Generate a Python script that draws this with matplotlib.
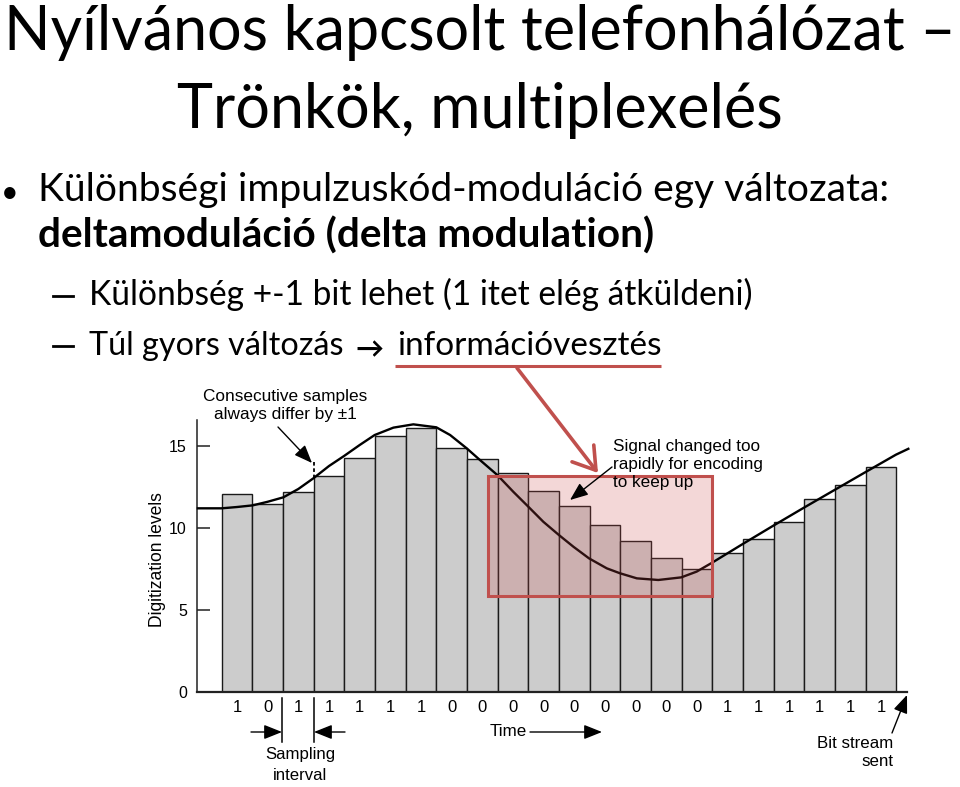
import matplotlib
matplotlib.use("Agg")
import matplotlib.pyplot as plt
from matplotlib.patches import Rectangle, FancyArrowPatch

# ---------------- data ----------------
bits = [1, 0, 1, 1, 1, 1, 1, 0, 0, 0, 0, 0, 0, 0, 0, 0, 1, 1, 1, 1, 1, 1]
levels = [12.07, 11.44, 12.17, 13.15, 14.25, 15.59, 16.08, 14.90, 14.23, 13.33, 12.28,
          11.36, 10.16, 9.18, 8.19, 7.52, 8.46, 9.35, 10.38, 11.77, 12.64, 13.70]
signal_t = [-0.815, 0.0, 0.5, 1.01, 1.5, 2.01, 2.5, 2.99, 3.5, 3.99, 4.5, 4.99, 5.6, 6.25,
            7.0, 7.45, 7.99, 8.42, 8.99, 9.51, 10.0, 10.49, 11.0, 11.47, 11.98, 12.56,
            12.99, 13.54, 14.24, 14.99, 15.49, 16.0, 16.99, 17.99, 18.99, 19.99, 20.99,
            21.99, 22.43]
signal_v = [11.20, 11.20, 11.28, 11.38, 11.60, 11.87, 12.38, 13.03, 13.78, 14.39, 15.06,
            15.67, 16.12, 16.32, 16.14, 15.67, 14.86, 14.15, 13.23, 12.21, 11.30, 10.38,
            9.57, 8.86, 8.15, 7.54, 7.24, 6.93, 6.83, 6.99, 7.34, 7.89, 9.02, 10.14,
            11.24, 12.32, 13.40, 14.47, 14.86]
yticks = [0, 5, 10, 15]
highlight = dict(t0=8.7, t1=16.0, v0=5.85, v1=13.17)

title_lines = ["Nyílvános kapcsolt telefonhálózat –", "Trönkök, multiplexelés"]
bullet_text = "Különbségi impulzuskód-moduláció egy változata:"
bold_text = "deltamoduláció (delta modulation)"
sub1_text = "Különbség +-1 bit lehet (1 itet elég átküldeni)"
sub2_a = "Túl gyors változás "
sub2_arrow = "→"
sub2_b = "információvesztés"

W, H = 960, 787
fig = plt.figure(figsize=(W / 100, H / 100), dpi=100)
fig.patch.set_facecolor("white")
renderer = fig.canvas.get_renderer()

RED = "#c0504d"
SLIDE_FONT = ["Lato", "DejaVu Sans"]
FIG_FONT = ["Liberation Sans", "DejaVu Sans"]

# ---------------- chart axes ----------------
px0, px_unit = 221.7, 30.66      # pixel of t=0, pixels per time unit
py0, py_unit = 692.0, 16.4       # pixel of level 0, pixels per level
ax_l, ax_r, ax_t = 196.7, 912.0, 420.0
ax = fig.add_axes([ax_l / W, (H - py0) / H, (ax_r - ax_l) / W, (py0 - ax_t) / H])
ax.set_xlim((ax_l - px0) / px_unit, (ax_r - px0) / px_unit)
ax.set_ylim(0, (py0 - ax_t) / py_unit)
ax.set_facecolor("none")

n = len(levels)
ax.bar([i + 0.5 for i in range(n)], levels, width=1.0, color="#cccccc",
       edgecolor="#1a1a1a", linewidth=1.0, zorder=2)
ax.plot(signal_t, signal_v, color="black", linewidth=1.7, zorder=3,
        solid_capstyle="butt", clip_on=False)

ax.add_patch(Rectangle((highlight["t0"], highlight["v0"]),
                       highlight["t1"] - highlight["t0"], highlight["v1"] - highlight["v0"],
                       facecolor=(0.80, 0.30, 0.30, 0.22), edgecolor=RED,
                       linewidth=2.2, zorder=5, clip_on=False))

for s in ["top", "right"]:
    ax.spines[s].set_visible(False)
ax.spines["left"].set_linewidth(1.1)
ax.spines["bottom"].set_linewidth(1.6)
ax.spines["left"].set_color("#222222")
ax.spines["bottom"].set_color("#222222")
ax.spines["bottom"].set_bounds((ax_l - px0) / px_unit, (907 - px0) / px_unit)
ax.set_xticks([])
ax.set_yticks(yticks)
ax.set_yticklabels([str(v) for v in yticks], fontfamily=FIG_FONT, fontsize=11.5)
ax.tick_params(axis="y", direction="in", length=9.5, width=1.1, pad=7, colors="#222222",
               labelcolor="black")

# bit labels under each bar
for i, b in enumerate(bits):
    ax.text(i + 0.5, -(708 - py0) / py_unit, str(b), ha="center", va="center",
            fontsize=12, fontfamily=FIG_FONT, clip_on=False)

# ---------------- overlay (pixel coordinates) ----------------
ov = fig.add_axes([0, 0, 1, 1], zorder=10)
ov.set_xlim(0, W)
ov.set_ylim(H, 0)
ov.axis("off")
ov.patch.set_alpha(0)


def fit(t, target, dim="w"):
    bb = t.get_window_extent(renderer)
    cur = bb.width if dim == "w" else bb.height
    t.set_fontsize(t.get_fontsize() * target / cur)
    return t


def ftext(x, y, s, target=None, ha="left", va="center", size=12, fam=FIG_FONT, **kw):
    t = ov.text(x, y, s, ha=ha, va=va, fontsize=size, fontfamily=fam, **kw)
    if target:
        fit(t, target)
    return t


def arrow(p0, p1, color="black", lw=1.0, style="-|>,head_length=0.55,head_width=0.22",
          ms=20):
    ov.add_patch(FancyArrowPatch(p0, p1, arrowstyle=style, color=color, linewidth=lw,
                                 mutation_scale=ms, shrinkA=0, shrinkB=0))


# y label
yl = ov.text(157, 560, "Digitization levels", rotation=90, ha="center", va="center",
             fontsize=12, fontfamily=FIG_FONT)
fit(yl, 136, dim="h")

# annotations
t1 = ftext(285, 397, "Consecutive samples", 164, ha="center")
ftext(285, 415, "always differ by ±1", None, ha="center", size=t1.get_fontsize())
arrow((278, 427), (312, 463))
ov.plot([313.5, 313.5], [462, 478], color="black", lw=1.3, ls=(0, (2, 1.5)))

s1 = ftext(613, 446, "Signal changed too", 147)
ftext(613, 465, "rapidly for encoding", None, size=s1.get_fontsize())
ftext(613, 483, "to keep up", None, size=s1.get_fontsize())
arrow((612, 467), (570, 500))

# sampling interval
ov.plot([282.3, 282.3], [698, 742], color="black", lw=1.1)
ov.plot([314, 314], [698, 742], color="black", lw=1.1)
arrow((251, 732), (282, 732))
arrow((345, 732), (314, 732))
sm = ftext(300, 755, "Sampling", 70, ha="center")
ftext(300, 776, "interval", None, ha="center", size=sm.get_fontsize())

# time
tm = ftext(490, 732, "Time", 37)
arrow((530, 732), (602, 732))

# bit stream
bs = ftext(893, 743, "Bit stream", 76, ha="right")
ftext(893, 762, "sent", None, ha="right", size=bs.get_fontsize())
arrow((892, 733), (907, 695))

# ---------------- slide text ----------------
tl1 = ftext(480, 50, title_lines[0], 952, ha="center", va="baseline", size=40, fam=SLIDE_FONT)
tl2 = ftext(480, 128, title_lines[1], 605, ha="center", va="baseline", size=40, fam=SLIDE_FONT)

ftext(10, 193, "•", None, ha="center", va="center", size=22, fam=SLIDE_FONT)
ftext(38, 201, bullet_text, 853, va="baseline", size=24, fam=SLIDE_FONT)
ftext(38, 248, bold_text, 617, va="baseline", size=24, fam=SLIDE_FONT, fontweight="bold")

ov.plot([53, 73], [296, 296], color="black", lw=2.0)
ftext(89, 305, sub1_text, 661, va="baseline", size=22, fam=SLIDE_FONT)
ov.plot([53, 73], [346, 346], color="black", lw=2.0)
sa = ftext(89, 355, sub2_a, 262, va="baseline", size=22, fam=SLIDE_FONT)
ftext(355, 350, sub2_arrow, 28, va="center", size=22, fam=SLIDE_FONT, fontweight="bold")
ftext(397, 355, sub2_b, 264, va="baseline", size=22, fam=SLIDE_FONT)
ov.plot([395, 661], [366, 366], color=RED, lw=2.2, solid_capstyle="butt")

# red pointer arrow
arrow((517, 368), (598, 473), color=RED, lw=2.6,
      style="->,head_length=0.7,head_width=0.45", ms=22)

fig.savefig("out.png", dpi=100, facecolor="white")
